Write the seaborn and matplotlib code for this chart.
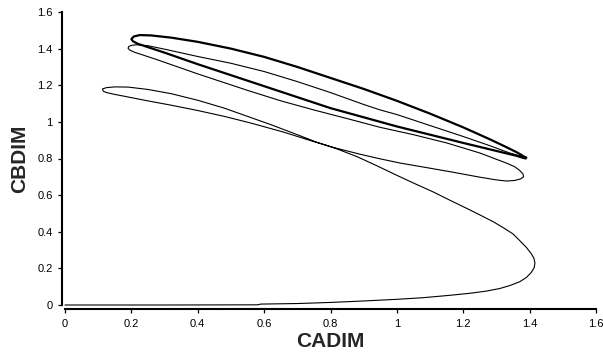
import matplotlib
matplotlib.use("Agg")
import matplotlib.pyplot as plt
import seaborn as sns

# Transient path of the reactor state: start-up run along CB ~ 0, the S-shaped
# swing, the first wide loop and the approach loop towards the limit cycle.
cadim_transient = [
    0.000, 0.300, 0.580, 0.590, 0.700, 0.800, 0.900, 1.000, 1.080, 1.160,
    1.220, 1.270, 1.310, 1.340, 1.370, 1.390, 1.405, 1.414, 1.416, 1.413,
    1.405, 1.390, 1.370, 1.350, 1.320, 1.290, 1.250, 1.210, 1.160, 1.110,
    1.050, 1.000, 0.940, 0.880, 0.820, 0.760, 0.700, 0.620, 0.550, 0.480,
    0.400, 0.320, 0.250, 0.190, 0.150, 0.125, 0.113, 0.115, 0.125, 0.150,
    0.190, 0.240, 0.320, 0.400, 0.480, 0.557, 0.657, 0.750, 0.820, 0.890,
    0.950, 1.010, 1.100, 1.160, 1.250, 1.300, 1.330, 1.355, 1.372, 1.382,
    1.380, 1.370, 1.355, 1.330, 1.250, 1.150, 1.050, 0.950, 0.850, 0.750,
    0.650, 0.550, 0.450, 0.400, 0.340, 0.280, 0.240, 0.210, 0.195, 0.190,
    0.192, 0.200, 0.215, 0.250, 0.300, 0.400, 0.500, 0.600, 0.700, 0.800,
    0.900, 0.950, 1.000, 1.100, 1.200, 1.280, 1.340, 1.370, 1.385,
]
cbdim_transient = [
    0.000, 0.000, 0.001, 0.005, 0.008, 0.014, 0.022, 0.031, 0.040, 0.053,
    0.064, 0.076, 0.090, 0.106, 0.127, 0.150, 0.178, 0.205, 0.230, 0.255,
    0.280, 0.315, 0.352, 0.388, 0.423, 0.455, 0.492, 0.528, 0.572, 0.617,
    0.666, 0.708, 0.760, 0.810, 0.852, 0.888, 0.930, 0.985, 1.030, 1.075,
    1.118, 1.154, 1.177, 1.190, 1.191, 1.187, 1.180, 1.168, 1.160, 1.150,
    1.136, 1.118, 1.091, 1.062, 1.030, 0.995, 0.945, 0.892, 0.855, 0.823,
    0.798, 0.775, 0.747, 0.728, 0.698, 0.683, 0.677, 0.680, 0.688, 0.700,
    0.715, 0.735, 0.755, 0.775, 0.830, 0.885, 0.930, 0.970, 1.018, 1.065,
    1.115, 1.172, 1.232, 1.262, 1.300, 1.338, 1.362, 1.380, 1.392, 1.402,
    1.411, 1.418, 1.421, 1.416, 1.397, 1.357, 1.320, 1.275, 1.220, 1.160,
    1.095, 1.065, 1.040, 0.980, 0.920, 0.870, 0.830, 0.815, 0.808,
]

# Limit cycle reached after the transient (closed loop)
cadim_cycle = [
    1.385, 1.375, 1.360, 1.330, 1.280, 1.200, 1.100, 1.000, 0.900, 0.800,
    0.700, 0.600, 0.500, 0.400, 0.320, 0.260, 0.225, 0.207, 0.200, 0.205,
    0.220, 0.260, 0.300, 0.400, 0.500, 0.600, 0.700, 0.800, 0.900, 1.000,
    1.100, 1.200, 1.280, 1.330, 1.360, 1.378, 1.388, 1.390, 1.385,
]
cbdim_cycle = [
    0.808, 0.820, 0.835, 0.862, 0.905, 0.970, 1.045, 1.115, 1.180, 1.240,
    1.300, 1.355, 1.400, 1.437, 1.460, 1.472, 1.474, 1.466, 1.452, 1.440,
    1.426, 1.402, 1.378, 1.315, 1.255, 1.195, 1.135, 1.075, 1.025, 0.975,
    0.930, 0.885, 0.850, 0.828, 0.815, 0.805, 0.800, 0.805, 0.808,
]

x_ticks = [0, 0.2, 0.4, 0.6, 0.8, 1.0, 1.2, 1.4, 1.6]
x_tick_labels = ["0", "0.2", "0.4", "0.6", "0.8", "1", "1.2", "1.4", "1.6"]
y_ticks = [0, 0.2, 0.4, 0.6, 0.8, 1.0, 1.2, 1.4, 1.6]
y_tick_labels = ["0", "0.2", "0.4", "0.6", "0.8", "1", "1.2", "1.4", "1.6"]

sns.set_style("ticks")
plt.rcParams["font.family"] = ["Liberation Sans", "DejaVu Sans"]

fig = plt.figure(figsize=(6.03, 3.55), dpi=100)
ax = fig.add_axes([65 / 603, 50 / 355, 531 / 603, 293 / 355])

sns.lineplot(x=cadim_transient, y=cbdim_transient, sort=False, estimator=None,
             color="black", linewidth=0.8, ax=ax)
sns.lineplot(x=cadim_cycle, y=cbdim_cycle, sort=False, estimator=None,
             color="black", linewidth=1.6, ax=ax)
for line in ax.lines:
    line.set_clip_on(False)

ax.set_xlim(0, 1.6)
ax.set_ylim(0, 1.6)
ax.set_xticks(x_ticks)
ax.set_xticklabels(x_tick_labels)
ax.set_yticks(y_ticks)
ax.set_yticklabels(y_tick_labels)

sns.despine(ax=ax)
ax.spines["left"].set_position(("outward", 2.5))
ax.spines["bottom"].set_position(("outward", 2.8))
for side in ("left", "bottom"):
    ax.spines[side].set_linewidth(1.5)
    ax.spines[side].set_color("black")
ax.tick_params(axis="both", direction="out", length=3, width=0.9,
               colors="black", labelsize=8)
ax.tick_params(axis="x", pad=4.5)
ax.tick_params(axis="y", pad=3.5)

ax.set_xlabel("CADIM", fontsize=15, fontweight="bold", labelpad=2)
ax.set_ylabel("CBDIM", fontsize=15, fontweight="bold", labelpad=6)

fig.savefig("out.png", dpi=100)
